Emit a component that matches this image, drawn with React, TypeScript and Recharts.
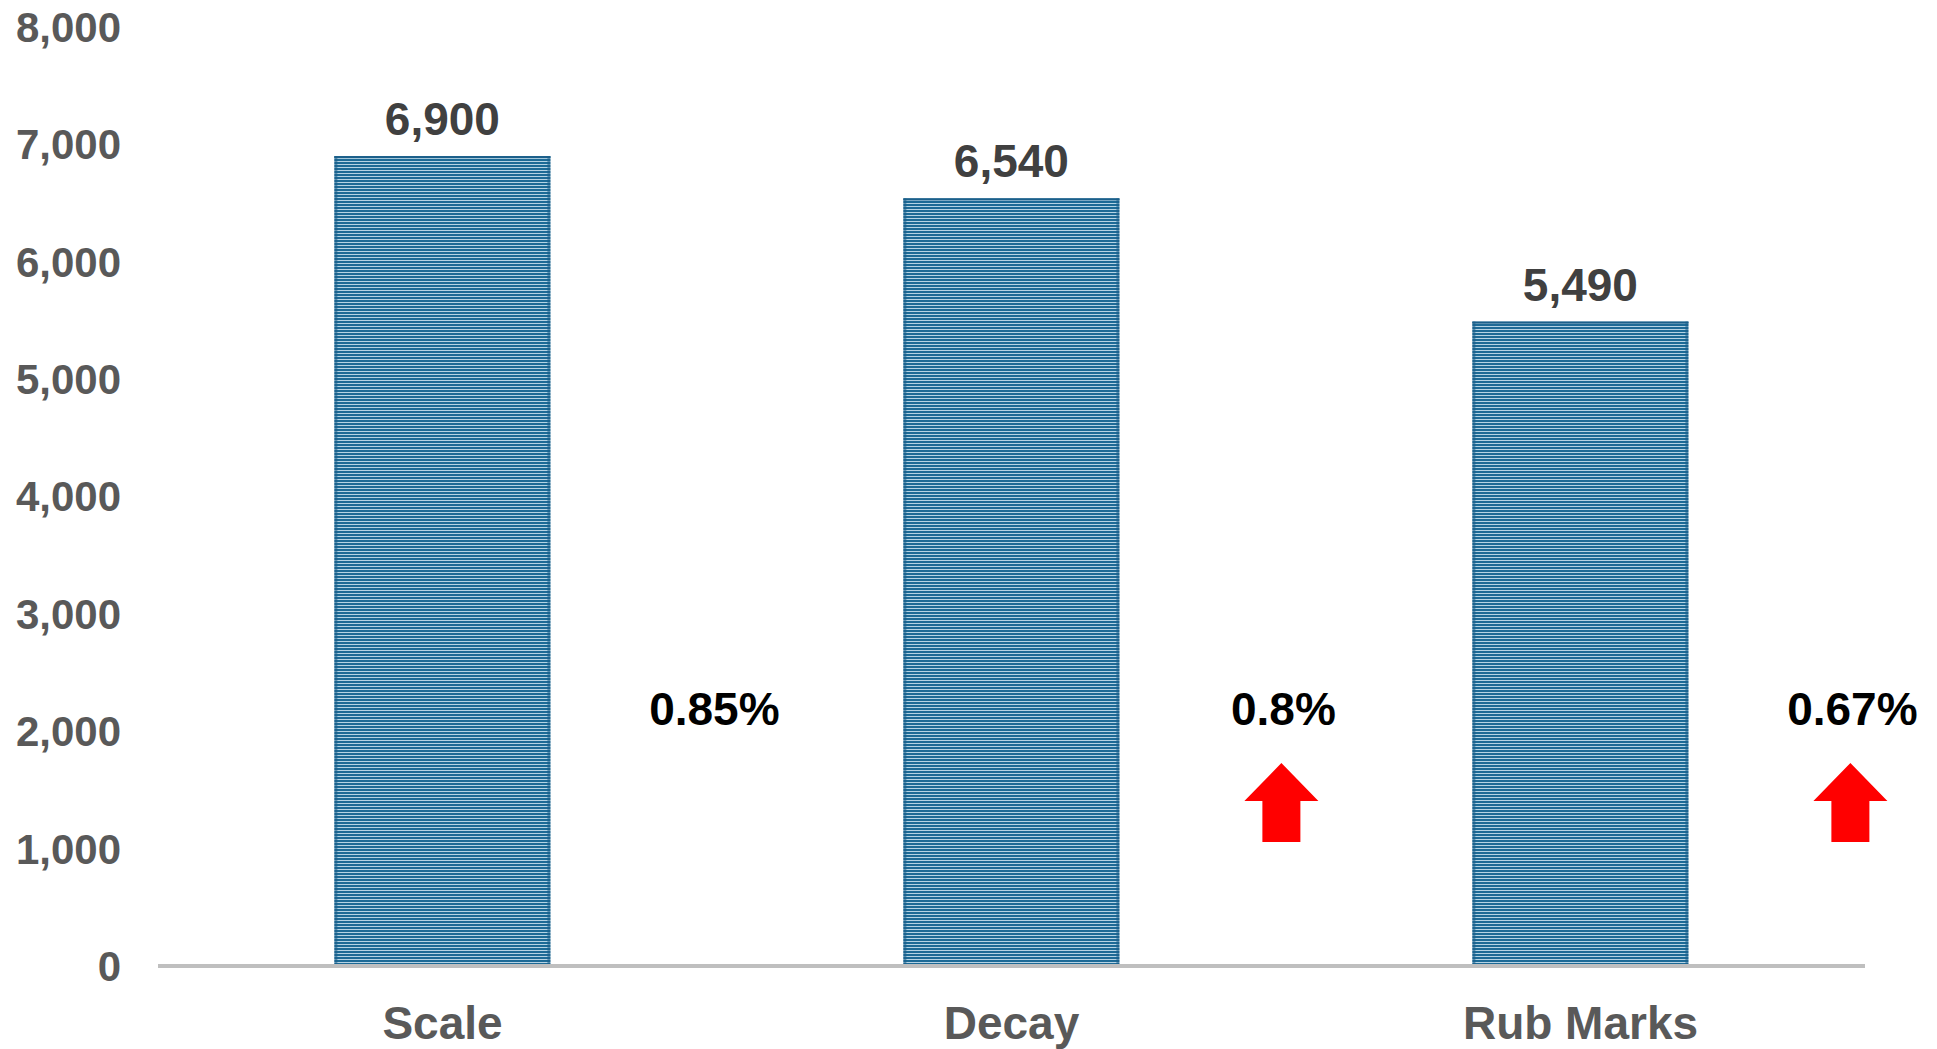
import React from 'react';
import { BarChart, Bar, XAxis, YAxis, LabelList } from 'recharts';

// categories and values
const categories = ['Scale', 'Decay', 'Rub Marks'];
const counts = [6900, 6540, 5490];
const shares = ['0.85%', '0.8%', '0.67%'];
const arrowUp = [false, true, true];
const yTicks = [0, 1000, 2000, 3000, 4000, 5000, 6000, 7000, 8000];

const data = categories.map((name, i) => ({
  name,
  count: counts[i],
  share: shares[i],
  arrow: arrowUp[i],
}));

const FONT = '"Liberation Sans", Arial, sans-serif';
const fmt = (v: number) => v.toLocaleString('en-US');

// bar with striped fill, plus the share text and red arrow to its right
function StripedBar(props: any) {
  const { x, y, width, height, index } = props;
  const base = y + height;
  const cx = x + width / 2 + 270;
  const row = data[index];
  return (
    <g>
      <rect x={x} y={y} width={width} height={height} fill="url(#stripes)" />
      <rect x={x} y={y} width={3} height={height} fill="#1b5f8a" opacity={0.6} />
      <rect x={x + width - 3} y={y} width={3} height={height} fill="#1b5f8a" opacity={0.6} />
      <rect x={x} y={y} width={width} height={2} fill="#1b5f8a" />
      <text
        x={cx + 2}
        y={base - 241}
        textAnchor="middle"
        fontFamily={FONT}
        fontWeight="bold"
        fontSize={46}
        fill="#000"
      >
        {row.share}
      </text>
      {row.arrow && (
        <polygon
          points={[
            [cx, base - 203],
            [cx + 37, base - 165],
            [cx + 19, base - 165],
            [cx + 19, base - 124],
            [cx - 19, base - 124],
            [cx - 19, base - 165],
            [cx - 37, base - 165],
          ]
            .map((p) => p.join(','))
            .join(' ')}
          fill="#ff0000"
        />
      )}
    </g>
  );
}

export default function App() {
  return (
    <div style={{ position: 'absolute', left: 0, top: 0, background: '#fff' }}>
      <BarChart
        width={1937}
        height={1049}
        data={data}
        margin={{ top: 27, right: 72, left: 0, bottom: 0 }}
        barCategoryGap="31%"
      >
        <defs>
          <pattern id="stripes" patternUnits="userSpaceOnUse" width={6} height={3}>
            <rect x={0} y={0} width={6} height={2} fill="#1d6a96" />
            <rect x={0} y={2} width={6} height={1} fill="#b5d3e4" />
          </pattern>
        </defs>
        <XAxis
          dataKey="name"
          height={83}
          axisLine={{ stroke: '#bfbfbf', strokeWidth: 4 }}
          tickLine={false}
          tickSize={0}
          tickMargin={40}
          tick={{ fill: '#595959', fontSize: 46, fontWeight: 'bold', fontFamily: FONT }}
        />
        <YAxis
          width={158}
          domain={[0, 8000]}
          ticks={yTicks}
          interval={0}
          axisLine={false}
          tickLine={false}
          tickSize={0}
          tickMargin={37}
          tickFormatter={fmt}
          tick={{ fill: '#595959', fontSize: 42, fontWeight: 'bold', fontFamily: FONT }}
        />
        <Bar dataKey="count" shape={<StripedBar />} isAnimationActive={false}>
          <LabelList
            dataKey="count"
            position="top"
            offset={21}
            formatter={(v: any) => fmt(Number(v))}
            fill="#404040"
            fontSize={46}
            fontWeight="bold"
            fontFamily={FONT}
          />
        </Bar>
      </BarChart>
    </div>
  );
}
